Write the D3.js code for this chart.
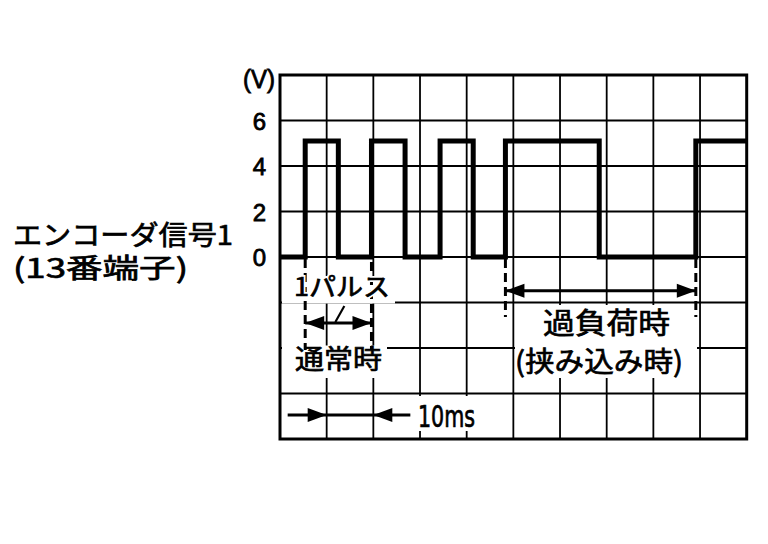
<!DOCTYPE html>
<html><head><meta charset="utf-8">
<script src="https://cdn.jsdelivr.net/npm/d3@7"></script>
<style>
html,body{margin:0;padding:0;background:#fff;}
svg{display:block;}
</style></head>
<body>
<svg id="chart" width="768" height="544"></svg>
<script>
// ---- data ----
const edgeTimes = [0, 5.4, 12.5, 19.6, 26.8, 34.3, 41.4, 48.3, 68.4, 89.1, 100]; // ms
const levels    = [0, 5.1, 0, 5.1, 0, 5.1, 0, 5.1, 0, 5.1, 5.1];              // V
const yTicks = [0, 2, 4, 6];
const yUnit = "(V)";
const pulseSpan = [5.4, 19.6];      // 1 pulse (normal)
const overloadSpan = [48.3, 89.1];  // overload
const tenMsSpan = [10, 20];         // 10 ms scale
const signalLabel = ["エンコーダ信号1", "(13番端子)"];
const pulseLabels = ["1パルス", "通常時"];
const overloadLabels = ["過負荷時", "(挟み込み時)"];
const scaleLabel = "10ms";

// ---- scales ----
const svg = d3.select("#chart");
const x = d3.scaleLinear().domain([0, 100]).range([280, 746.7]);
const y = d3.scaleLinear().domain([-8, 8]).range([439, 75]);
const jp = "'Noto Sans CJK JP', 'Noto Sans', sans-serif";
const lat = "'Liberation Sans', Arial, sans-serif";

// grid
const g = svg.append("g");
g.selectAll("line.v").data(d3.range(10, 100, 10)).join("line")
  .attr("x1", d => x(d)).attr("x2", d => x(d)).attr("y1", y(8)).attr("y2", y(-8))
  .attr("stroke", "#000").attr("stroke-width", 1.8);
g.selectAll("line.h").data(d3.range(-6, 8, 2)).join("line")
  .attr("x1", x(0)).attr("x2", x(100)).attr("y1", d => y(d)).attr("y2", d => y(d))
  .attr("stroke", "#000").attr("stroke-width", 1.8);

// white masks behind labels
const masks = [
  [282, 276, 395, 303.5],
  [282, 345.5, 387, 378],
  [515, 305, 697, 378],
  [411, 396, 478, 431]
];
svg.append("g").selectAll("rect").data(masks).join("rect")
  .attr("x", d => d[0]).attr("y", d => d[1]).attr("width", d => d[2]-d[0]).attr("height", d => d[3]-d[1])
  .attr("fill", "#fff");

// dashed guide lines
const dashes = [
  [pulseSpan[0], y(0) + 2, 350],
  [pulseSpan[1], 262, 350],
  [overloadSpan[0], y(0) + 2, 317],
  [overloadSpan[1], y(0) + 2, 317]
];
svg.append("g").selectAll("line").data(dashes).join("line")
  .attr("x1", d => x(d[0])).attr("x2", d => x(d[0])).attr("y1", d => d[1]).attr("y2", d => d[2])
  .attr("stroke", "#000").attr("stroke-width", 3).attr("stroke-dasharray", "9,5");

// arrows
const HL = 19, HW = 7;
function head(tx, ty, dir) { // dir: +1 points right, -1 points left
  return `M${tx},${ty}L${tx - dir*HL},${ty - HW}L${tx - dir*HL},${ty + HW}Z`;
}
const ag = svg.append("g");
function dbl(span, yy) {
  const a = x(span[0]), b = x(span[1]);
  ag.append("line").attr("x1", a).attr("x2", b).attr("y1", yy).attr("y2", yy)
    .attr("stroke", "#000").attr("stroke-width", 3);
  ag.append("path").attr("d", head(a, yy, -1)).attr("fill", "#000");
  ag.append("path").attr("d", head(b, yy, 1)).attr("fill", "#000");
}
dbl(pulseSpan, 323);
dbl(overloadSpan, 290.7);
// 10 ms inward arrows
{
  const a = x(tenMsSpan[0]), b = x(tenMsSpan[1]), yy = 415;
  ag.append("line").attr("x1", a - 39).attr("x2", b + 37).attr("y1", yy).attr("y2", yy)
    .attr("stroke", "#000").attr("stroke-width", 3);
  ag.append("path").attr("d", head(a, yy, 1)).attr("fill", "#000");
  ag.append("path").attr("d", head(b, yy, -1)).attr("fill", "#000");
}
// leader slash
{
  const m = (x(pulseSpan[0]) + x(pulseSpan[1])) / 2;
  ag.append("line").attr("x1", m - 3).attr("y1", 322).attr("x2", m + 6).attr("y2", 306)
    .attr("stroke", "#000").attr("stroke-width", 2.2);
}

// signal
const pts = edgeTimes.map((t, i) => [t, levels[i]]);
svg.append("path").datum(pts)
  .attr("d", d3.line().x(d => x(d[0])).y(d => y(d[1])).curve(d3.curveStepAfter))
  .attr("fill", "none").attr("stroke", "#000").attr("stroke-width", 5)
  .attr("stroke-linejoin", "miter").attr("stroke-linecap", "butt");

// border
svg.append("rect").attr("x", x(0)).attr("y", y(8)).attr("width", x(100) - x(0)).attr("height", y(-8) - y(8))
  .attr("fill", "none").attr("stroke", "#000").attr("stroke-width", 3);

// y axis labels
const yAxis = d3.axisLeft(y).tickValues(yTicks).tickSize(0).tickPadding(14).tickFormat(d3.format("d"));
const ya = svg.append("g").attr("transform", `translate(${x(0)},0)`).call(yAxis);
ya.select(".domain").remove();
ya.selectAll("text").attr("font-family", lat).attr("font-size", 24)
  .attr("fill", "#000").attr("stroke", "#000").attr("stroke-width", 0.8).attr("dy", "0.36em");
svg.append("text").text(yUnit).attr("x", 275).attr("y", 88).attr("text-anchor", "end")
  .attr("font-family", lat).attr("font-size", 25)
  .attr("fill", "#000").attr("stroke", "#000").attr("stroke-width", 0.8)
  .attr("textLength", 32).attr("lengthAdjust", "spacingAndGlyphs");

// text labels
function lbl(t, xx, yy, fs, len, halo) {
  const mk = () => {
    const e = svg.append("text").text(t).attr("x", xx).attr("y", yy)
      .attr("font-family", jp).attr("font-size", fs);
    if (len) e.attr("textLength", len).attr("lengthAdjust", "spacingAndGlyphs");
    return e;
  };
  if (halo) mk().attr("fill", "#fff").attr("stroke", "#fff").attr("stroke-width", 4);
  return mk().attr("fill", "#000").attr("stroke", "#000").attr("stroke-width", 0.7);
}
lbl(signalLabel[0], 13, 245, 27, 220);
lbl(signalLabel[1], 13, 278, 27, 175);
lbl(pulseLabels[0], 294, 296, 25, 96, true);
lbl(pulseLabels[1], 295, 369, 27, 87);
lbl(overloadLabels[0], 543, 334, 29, 127);
lbl(overloadLabels[1], 515, 372, 28, 168);
svg.append("text").text(scaleLabel).attr("x", 418).attr("y", 427)
  .attr("font-family", "'Liberation Sans Narrow', 'DejaVu Sans Condensed', sans-serif")
  .attr("font-size", 30).attr("fill", "#000").attr("stroke", "#000").attr("stroke-width", 0.7)
  .attr("textLength", 57).attr("lengthAdjust", "spacingAndGlyphs");
</script>
</body></html>
